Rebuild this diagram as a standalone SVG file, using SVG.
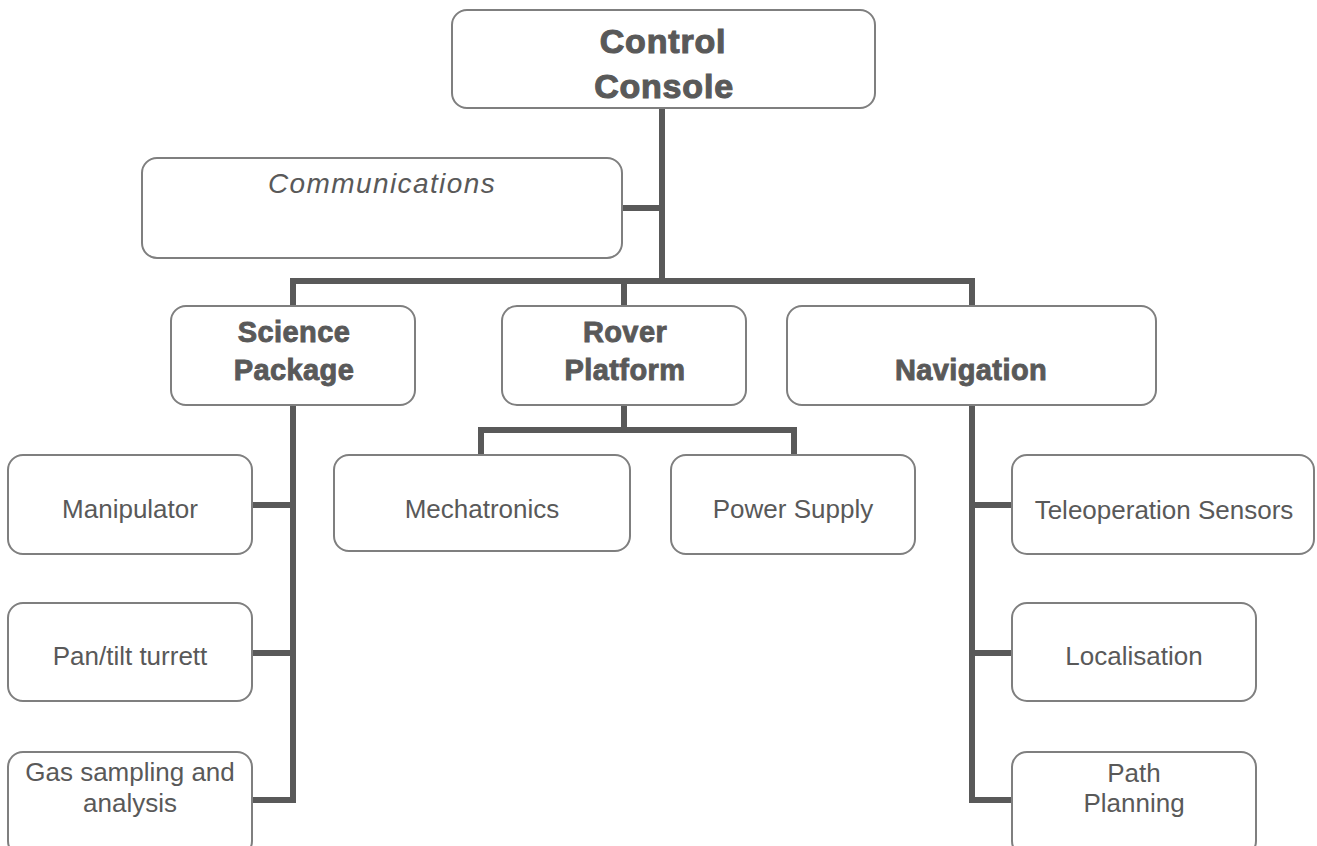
<svg xmlns="http://www.w3.org/2000/svg" width="1317" height="846" viewBox="0 0 1317 846">
<style>
.box{fill:#ffffff;stroke:#7f7f7f;stroke-width:2}
.conn{fill:none;stroke:#595959;stroke-width:6;stroke-linejoin:miter;stroke-linecap:butt}
.t{font-family:"Liberation Sans",Arial,sans-serif;fill:#595959;text-anchor:middle}
.h1{font-size:34px;font-weight:bold;letter-spacing:0.8px;stroke:#595959;stroke-width:1.1px}
.h2{font-size:29px;font-weight:bold;letter-spacing:0.4px;stroke:#595959;stroke-width:0.9px}
.n{font-size:26px}
.it{font-size:28px;font-style:italic;letter-spacing:1.4px}
</style>
<rect width="1317" height="846" fill="#ffffff"/>
<g id="connectors">
<path class="conn" d="M662,108 V281"/>
<path class="conn" d="M622,208 H662"/>
<path class="conn" d="M293,306 V281 H972 V306"/>
<path class="conn" d="M624,281 V306"/>
<path class="conn" d="M293,405 V800 H252"/>
<path class="conn" d="M252,505 H293"/>
<path class="conn" d="M252,653 H293"/>
<path class="conn" d="M624,405 V430"/>
<path class="conn" d="M481,455 V430 H794 V455"/>
<path class="conn" d="M972,405 V800 H1012"/>
<path class="conn" d="M1012,505 H972"/>
<path class="conn" d="M1012,653 H972"/>
</g>
<g id="control-console">
<rect class="box" x="452" y="10" width="423" height="98" rx="15"/>
<text class="t h1" x="663" y="53">Control</text>
<text class="t h1" x="664" y="98">Console</text>
</g>
<g id="communications">
<rect class="box" x="142" y="158" width="480" height="100" rx="15"/>
<text class="t it" x="382" y="193">Communications</text>
</g>
<g id="science-package">
<rect class="box" x="171" y="306" width="244" height="99" rx="15"/>
<text class="t h2" x="294" y="342">Science</text>
<text class="t h2" x="294" y="380">Package</text>
</g>
<g id="rover-platform">
<rect class="box" x="502" y="306" width="244" height="99" rx="15"/>
<text class="t h2" x="625" y="342">Rover</text>
<text class="t h2" x="625" y="380">Platform</text>
</g>
<g id="navigation">
<rect class="box" x="787" y="306" width="369" height="99" rx="15"/>
<text class="t h2" x="971" y="380">Navigation</text>
</g>
<g id="manipulator">
<rect class="box" x="8" y="455" width="244" height="99" rx="15"/>
<text class="t n" x="130" y="518">Manipulator</text>
</g>
<g id="pan-tilt">
<rect class="box" x="8" y="603" width="244" height="98" rx="15"/>
<text class="t n" x="130" y="665">Pan/tilt turrett</text>
</g>
<g id="gas-sampling">
<rect class="box" x="8" y="752" width="244" height="104" rx="15"/>
<text class="t n" x="130" y="781">Gas sampling and</text>
<text class="t n" x="130" y="812">analysis</text>
</g>
<g id="mechatronics">
<rect class="box" x="334" y="455" width="296" height="96" rx="15"/>
<text class="t n" x="482" y="518">Mechatronics</text>
</g>
<g id="power-supply">
<rect class="box" x="671" y="455" width="244" height="99" rx="15"/>
<text class="t n" x="793" y="518">Power Supply</text>
</g>
<g id="teleoperation-sensors">
<rect class="box" x="1012" y="455" width="302" height="99" rx="15"/>
<text class="t n" x="1164" y="519">Teleoperation Sensors</text>
</g>
<g id="localisation">
<rect class="box" x="1012" y="603" width="244" height="98" rx="15"/>
<text class="t n" x="1134" y="665">Localisation</text>
</g>
<g id="path-planning">
<rect class="box" x="1012" y="752" width="244" height="104" rx="15"/>
<text class="t n" x="1134" y="782">Path</text>
<text class="t n" x="1134" y="812">Planning</text>
</g>
</svg>
